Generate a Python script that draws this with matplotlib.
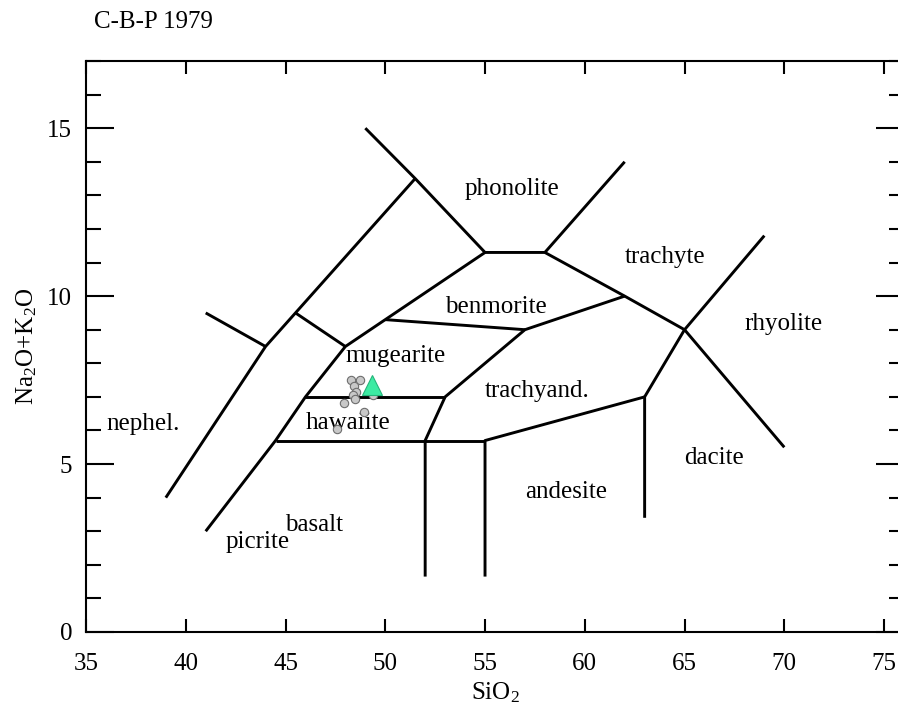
import matplotlib
matplotlib.use("Agg")
import matplotlib.pyplot as plt
from matplotlib.ticker import MultipleLocator

plt.rcParams['font.family'] = ['Liberation Serif', 'DejaVu Serif']
plt.rcParams['mathtext.fontset'] = 'custom'
plt.rcParams['mathtext.rm'] = 'Liberation Serif'
plt.rcParams['mathtext.it'] = 'Liberation Serif:italic'

# field boundaries (SiO2, Na2O+K2O), Cox, Bell & Pankhurst 1979
boundaries = [
    [(39, 4), (44, 8.5), (51.5, 13.5)],
    [(41, 9.5), (44, 8.5)],
    [(49, 15), (51.5, 13.5), (55, 11.3), (58, 11.3), (62, 14)],
    [(58, 11.3), (62, 10), (65, 9), (69, 11.8)],
    [(65, 9), (70, 5.5)],
    [(65, 9), (63, 7), (63, 3.4)],
    [(63, 7), (55, 5.7), (55, 1.65)],
    [(41, 3), (44.5, 5.7), (46, 7), (48, 8.5), (50, 9.3), (55, 11.3)],
    [(45.5, 9.5), (48, 8.5)],
    [(44.5, 5.7), (55, 5.7)],
    [(52, 1.65), (52, 5.7), (53, 7), (57, 9), (62, 10)],
    [(46, 7), (53, 7)],
    [(50, 9.3), (57, 9)],
]

field_names = ['phonolite', 'trachyte', 'rhyolite', 'benmorite', 'mugearite',
               'trachyand.', 'hawaiite', 'nephel.', 'dacite', 'andesite',
               'basalt', 'picrite']
field_x = [54, 62, 68, 53, 48, 55, 46, 36, 65, 57, 45, 42]
field_y = [13, 11, 9, 9.5, 8.05, 7, 6.03, 6, 5, 4, 3, 2.5]

# samples
sio2 = [48.28, 48.73, 48.45, 48.55, 48.37, 48.5, 47.95, 48.95, 47.57, 49.37]
alk = [7.5, 7.51, 7.33, 7.15, 7.05, 6.93, 6.81, 6.56, 6.04, 7.07]
tri_sio2 = [49.32]
tri_alk = [7.35]

fig = plt.figure(figsize=(8.98, 7.13), dpi=100)
ax = fig.add_axes([86 / 898, 81 / 713, 818 / 898, 571 / 713])

for line in boundaries:
    xs = [p[0] for p in line]
    ys = [p[1] for p in line]
    ax.plot(xs, ys, color='black', lw=2.1, solid_capstyle='butt', zorder=2)

for name, x, y in zip(field_names, field_x, field_y):
    ax.text(x, y, name, fontsize=18, ha='left', va='baseline', zorder=3)

ax.plot(sio2, alk, 'o', ms=6, mfc='#c8c8c8', mec='#6e6e6e', mew=0.8, ls='none', zorder=4)
ax.plot(tri_sio2, tri_alk, '^', ms=15, mfc='#3deba3', mec='#25b47a', mew=0.8, ls='none', zorder=5)

ax.set_xlim(35, 76)
ax.set_ylim(0, 17)
ax.xaxis.set_major_locator(MultipleLocator(5))
ax.yaxis.set_major_locator(MultipleLocator(5))
ax.yaxis.set_minor_locator(MultipleLocator(1))

for s in ax.spines.values():
    s.set_linewidth(1.5)
ax.tick_params(axis='both', which='both', direction='in', top=True, right=True,
               width=1.5, labelsize=18)
ax.tick_params(axis='x', which='major', length=9.5, pad=15)
ax.tick_params(axis='y', which='major', length=20, pad=10)
ax.tick_params(axis='y', which='minor', length=11)

ax.set_xlabel(r'SiO$_{\mathrm{2}}$', fontsize=18, labelpad=4)
ax.set_ylabel(r'Na$_{\mathrm{2}}$O+K$_{\mathrm{2}}$O', fontsize=18, labelpad=6)

fig.text(94 / 898, 1 - 27.7 / 713, 'C-B-P 1979', fontsize=18, ha='left', va='baseline')

fig.savefig('out.png', dpi=100)
